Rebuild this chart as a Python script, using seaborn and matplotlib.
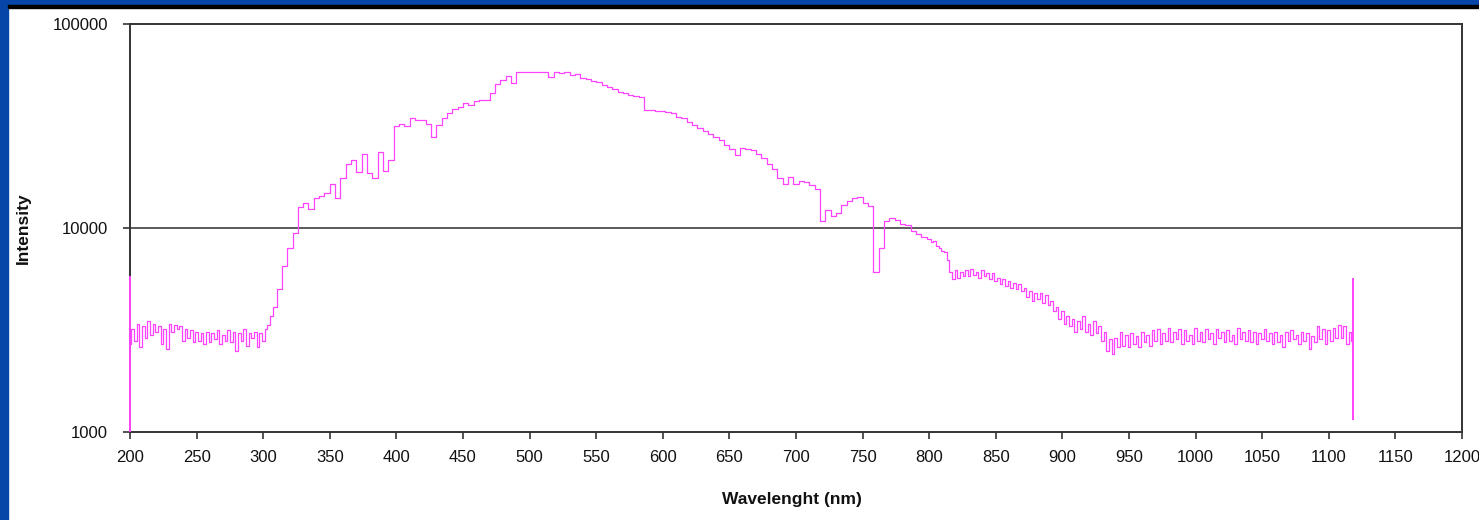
import numpy as np
import pandas as pd
import matplotlib
matplotlib.use("Agg")
import matplotlib.pyplot as plt
import seaborn as sns
from matplotlib.patches import Rectangle
from matplotlib.ticker import FixedLocator, FixedFormatter, NullLocator

# ---- data ----
# segment A: 200-308 nm, 2 nm sampling
intensity_uv = [2700, 3200, 2800, 3400, 2600, 3300, 2900, 3500, 3000, 3400,
                3100, 3300, 2700, 3200, 2550, 3400, 3100, 3350, 3200, 3300,
                2800, 3200, 2900, 3150, 2750, 3100, 2800, 3050, 2700, 3100,
                2750, 3050, 2850, 3150, 2700, 3000, 2800, 3150, 2750, 3100,
                2500, 3050, 2800, 3200, 2650, 3050, 2900, 3100, 2600, 3050,
                2800, 3200, 3350, 3700, 4100]
# segment B: 312-796 nm, 4 nm sampling
intensity_vis = [5000, 6500, 8000, 9500, 12700, 13200, 12400, 14000, 14300, 14800,
                 16500, 14100, 17500, 20500, 21600, 18900, 23000, 18500, 17500, 23500,
                 19000, 21500,
                 31500, 32500, 31500, 34500, 34000, 33800, 32500, 28000, 32000, 34500,
                 36500, 38500, 39000, 41000, 40000, 42000, 42400, 42400, 46000, 51000,
                 53000, 55500, 51500, 58000, 58500,
                 58500, 58500, 58500, 58500, 55000, 58000, 57500, 58000, 56500, 57000,
                 54500, 54000, 52500, 52000, 50000, 49000, 48000, 46500, 46000, 45000,
                 44500, 44000, 38000, 37800, 37500,
                 37500, 37000, 36500, 35000, 34500, 33000, 32000, 31000, 30000, 29000,
                 28000, 27000, 25500, 24500, 22800, 24800, 24500, 24000, 23000, 22000,
                 20500, 19500, 17500, 16500, 17800,
                 16500, 17000, 16800, 16200, 15500, 10800, 12300, 11500, 11800, 13000,
                 13600, 14000, 14200, 13300, 12800, 6100, 8000, 10800, 11200, 11000,
                 10500, 10300, 9700, 9300, 9000]
# segment C: 800-1118 nm, 2 nm sampling
intensity_nir = [8800, 8500, 8600, 8200, 8000, 7700, 7600, 7000, 6100, 5600,
                 6200, 5700, 6100, 5800, 6200, 5800, 6300, 5900, 6100, 5700,
                 6200, 5800, 6000, 5600, 6000,
                 5500, 5700, 5300, 5600, 5200, 5500, 5100, 5400, 5000, 5300,
                 4900, 5100, 4600, 4900, 4400, 4800, 4500, 4800, 4300, 4700,
                 4200, 4400, 3900, 4100, 3600, 3900, 3400,
                 3700, 3300, 3600, 3100, 3500, 3200, 3700, 3100, 3400, 3000,
                 3500, 3050, 3300,
                 2800, 3100, 2500, 2850, 2400, 2900, 2600,
                 3100, 2650, 3000, 2600, 3050, 2700, 2950, 2600, 3100, 2750,
                 3000, 2650, 3150, 2800, 3200, 2700, 3050, 2800, 3250, 2750,
                 3100, 2850, 3200, 2700, 3150, 2800, 3000, 2700,
                 3250, 2800, 3100, 2750, 3200, 2850, 3050, 2700, 3200, 2900,
                 3100, 2750, 3150, 2800, 3000, 2700, 3250, 2850, 3100, 2800,
                 3150, 2750, 3100, 2700, 3050, 2850, 3200, 2800, 3050, 2700,
                 3100, 2750, 3000, 2600, 3100, 2800, 3150, 2850, 3000, 2700,
                 3100, 2800, 3050, 2550, 2950, 2750, 3300, 2850, 3200, 2700,
                 3150, 2800, 3250, 2900, 3350, 2900, 3300, 2700, 3100, 2800]

wavelength_uv = np.arange(200, 309, 2)
wavelength_vis = np.arange(312, 797, 4)
wavelength_nir = np.arange(800, 1119, 2)

# vertical edge spikes at the ends of the spectrum
spike_wavelength = [200, 1118]
spike_low = [1000, 1140]
spike_high = [5800, 5700]

x_ticks = list(range(200, 1201, 50))
y_ticks = [1000, 10000, 100000]
y_tick_labels = ["1000", "10000", "100000"]

wavelength = np.concatenate([wavelength_uv, wavelength_vis, wavelength_nir])
intensity = intensity_uv + intensity_vis + intensity_nir
n = min(len(wavelength), len(intensity))
df = pd.DataFrame({"Wavelength": wavelength[:n], "Intensity": intensity[:n]})

# ---- style ----
sns.set_theme(style="white")
plt.rcParams["font.family"] = ["Liberation Sans", "DejaVu Sans"]

W, H = 1479, 520
fig = plt.figure(figsize=(W / 100, H / 100), dpi=100)
ax = fig.add_axes([130 / W, 1 - 432 / H, (1462 - 130) / W, (432 - 24) / H])

line_color = "#ff44ff"
sns.lineplot(data=df, x="Wavelength", y="Intensity", ax=ax, color=line_color,
             linewidth=0.9, drawstyle="steps-mid", estimator=None)
ax.vlines(spike_wavelength, spike_low, spike_high, color=line_color, linewidth=1.4,
          zorder=6, clip_on=False)

ax.set_yscale("log")
ax.set_xlim(200, 1200)
ax.set_ylim(1000, 100000)
ax.xaxis.set_major_locator(FixedLocator(x_ticks))
ax.yaxis.set_major_locator(FixedLocator(y_ticks))
ax.yaxis.set_major_formatter(FixedFormatter(y_tick_labels))
ax.yaxis.set_minor_locator(NullLocator())

ax.grid(False)
ax.axhline(10000, color="#5a5a5a", linewidth=1.4, zorder=0)

for s in ax.spines.values():
    s.set_visible(True)
    s.set_color("#333333")
    s.set_linewidth(1.4)

ax.tick_params(axis="both", which="major", direction="out", length=5, width=1.2,
               color="#333333", labelsize=12, labelcolor="#111111")
ax.tick_params(axis="y", pad=11, left=True)
ax.tick_params(axis="x", pad=8, bottom=True)

ax.set_xlabel("Wavelenght (nm)", fontsize=12.5, fontweight="bold", color="#111111")
ax.set_ylabel("Intensity", fontsize=12.5, fontweight="bold", color="#111111")
ax.xaxis.set_label_coords((792 - 130) / (1462 - 130), -(492 - 432) / (432 - 24))
ax.yaxis.set_label_coords(-(130 - 31) / (1462 - 130), 0.5)

# ---- slide frame ----
blue = "#0646a8"
fig.patches.append(Rectangle((0, 0), 8 / W, 1, transform=fig.transFigure,
                             color=blue, zorder=10))
fig.patches.append(Rectangle((0, 1 - 5 / H), 1, 5 / H, transform=fig.transFigure,
                             color=blue, zorder=10))
fig.patches.append(Rectangle((8 / W, 1 - 8 / H), 1, 3 / H, transform=fig.transFigure,
                             color="black", zorder=10))

fig.savefig("out.png", dpi=100)
